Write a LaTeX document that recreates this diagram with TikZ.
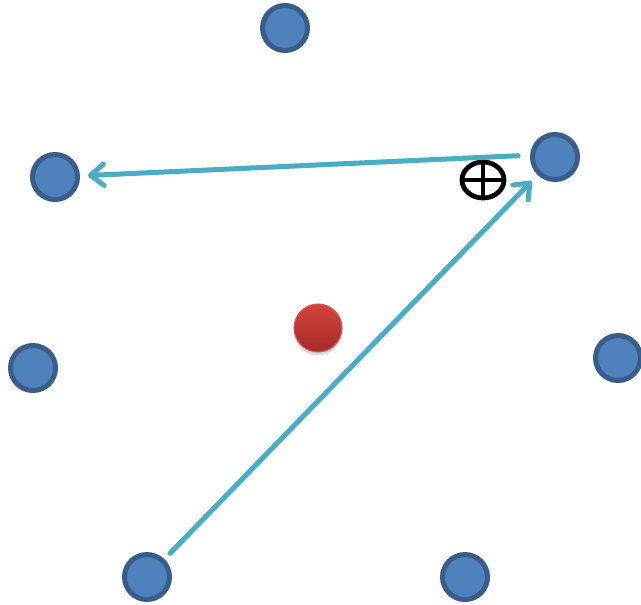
\documentclass[tikz,border=0pt]{standalone}
\usepackage{tikz}
\usepackage{xcolor}
\usetikzlibrary{arrows.meta,shadows,shapes.geometric}

\definecolor{siteblue}{HTML}{4F81BD}
\definecolor{siteedge}{HTML}{385D8A}
\definecolor{hopcyan}{HTML}{4BACC6}
\definecolor{iontop}{RGB}{210,68,62}
\definecolor{ionbottom}{RGB}{165,42,40}
\definecolor{ionrim}{RGB}{218,88,82}

\begin{document}
\begin{tikzpicture}[x=0.75pt, y=-0.75pt,
  site/.style={circle, fill=siteblue, draw=siteedge, line width=3.75pt,
               minimum size=33.75pt, inner sep=0pt},
  ion/.style={circle, top color=iontop, bottom color=ionbottom, draw=ionrim,
              line width=0.8pt, minimum size=36pt, inner sep=0pt,
              drop shadow={opacity=0.3, shadow xshift=0pt, shadow yshift=-2.5pt}},
  vacancy/.style={ellipse, draw, line width=3.6pt, minimum width=31.5pt,
                  minimum height=27pt, inner sep=0pt},
  hop/.style={draw=hopcyan, line width=3.75pt, line cap=round,
              -{Straight Barb[round, length=10pt, width=16pt]},
              preaction={draw=black, opacity=0.15,
                         transform canvas={shift={(1.5pt,-1.5pt)}}}}]
  \useasboundingbox (0,0) rectangle (641,604);

  % --- lattice sites ------------------------------------------------------
  \node[site] (s1) at (285,28) {};
  \node[site] (s2) at (555,157) {};
  \node[site] (s3) at (55,177) {};
  \node[site] (s4) at (33,368) {};
  \node[site] (s5) at (618,358) {};
  \node[site] (s6) at (147,577) {};
  \node[site] (s7) at (465,577) {};

  % --- central ion and vacancy mark --------------------------------------
  \node[ion] (core) at (318,328) {};
  \node[vacancy] (vac) at (483,180) {};
  \draw[line width=3pt] (vac.north) -- (vac.south);
  \draw[line width=3pt] (vac.west) -- (vac.east);

  % --- hops ---------------------------------------------------------------
  \draw[hop, shorten <=6pt, shorten >=6.5pt] (s6) -- (s2);
  \draw[hop, shorten <=27.75pt, shorten >=6pt] ([yshift=2.25pt]s2.center) -- (s3);
\end{tikzpicture}
\end{document}
